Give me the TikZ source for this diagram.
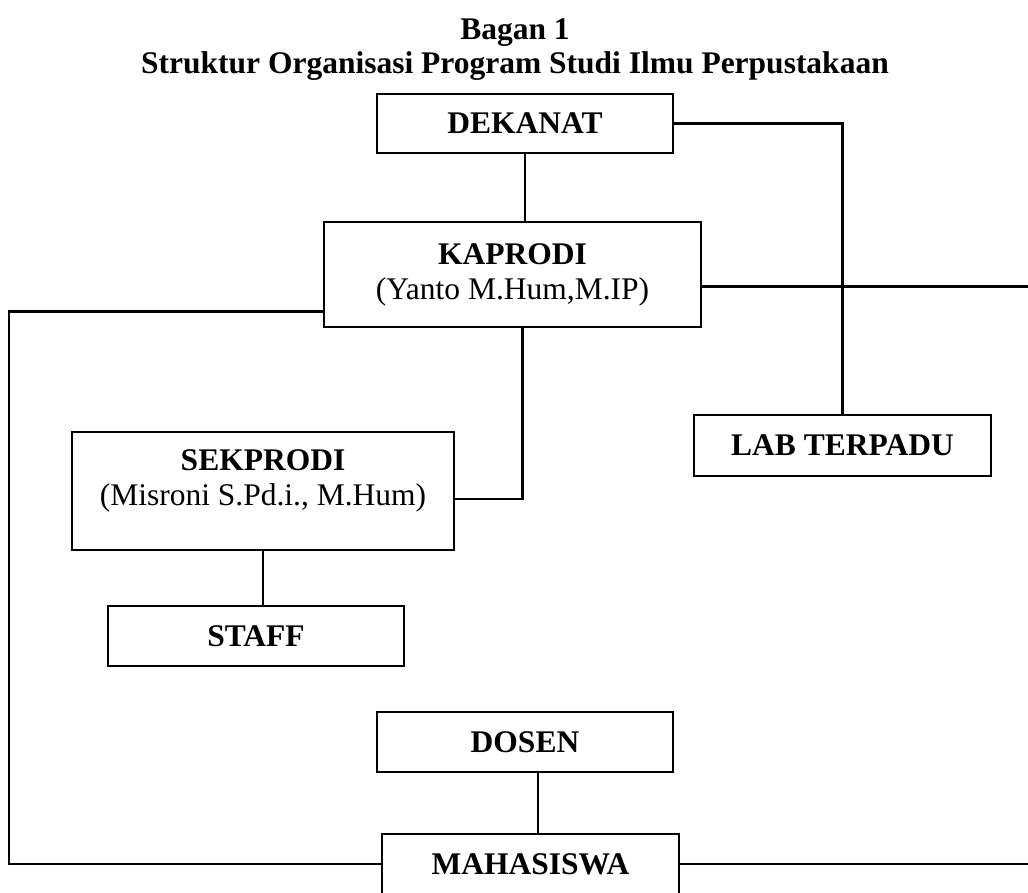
\documentclass[tikz,border=0pt]{standalone}
\usepackage{fontspec}
\setmainfont{Liberation Serif}
\usepackage{tikz}
\usetikzlibrary{calc}
\tikzstyle{block} = [rectangle, draw=black, line width=1.5pt, inner sep=0pt, align=center, font=\fontsize{31.5}{35}\selectfont]
\tikzstyle{line} = [line width=2.2pt, black]

\begin{document}
\begin{tikzpicture}[x=1pt, y=-1pt]
\useasboundingbox (0,0) rectangle (1028,892);
\node (title) [align=center, font=\fontsize{31.5}{34}\selectfont\bfseries] at (515,50) {Bagan 1\\Struktur Organisasi Program Studi Ilmu Perpustakaan};
\node (dekanat) [block, minimum width=296pt, minimum height=59pt] at (525,123.5) {\textbf{DEKANAT}};
\node (kaprodi) [block, minimum width=377pt, minimum height=105pt] at (512.5,274.5) {\textbf{KAPRODI}\\(Yanto M.Hum,M.IP)};
\node (lab) [block, minimum width=297pt, minimum height=61pt] at (842.5,445.5) {\textbf{LAB TERPADU}};
\node (sekprodi) [block, minimum width=382pt, minimum height=118pt] at (263,491) {\textbf{SEKPRODI}\\(Misroni S.Pd.i., M.Hum)\\[-8pt]};
\node (staff) [block, minimum width=296pt, minimum height=60pt] at (256,636) {\textbf{STAFF}};
\node (dosen) [block, minimum width=296pt, minimum height=60pt] at (525,742) {\textbf{DOSEN}};
\node (mahasiswa) [block, minimum width=297pt, minimum height=60pt] at (530.5,864) {\textbf{MAHASISWA}};
\coordinate (leftrail) at (9,0);
\coordinate (rightrail) at (1034,0);
\draw [line] (dekanat.south) -- (dekanat.south |- kaprodi.north);
\draw [line] (dekanat.east) -| (lab.north);
\draw [line] ([yshift=-8pt]sekprodi.east) -| ([xshift=10pt]kaprodi.south);
\draw [line] (sekprodi.south) -- (sekprodi.south |- staff.north);
\draw [line] ([xshift=13pt]dosen.south) -- ([xshift=13pt]dosen.south |- mahasiswa.north);
\draw [line] ([yshift=-37pt]kaprodi.west) -| (leftrail |- mahasiswa.west) -- (mahasiswa.west);
\draw [line] ([yshift=-12pt]kaprodi.east) -| (rightrail |- mahasiswa.east) -- (mahasiswa.east);
\end{tikzpicture}
\end{document}
